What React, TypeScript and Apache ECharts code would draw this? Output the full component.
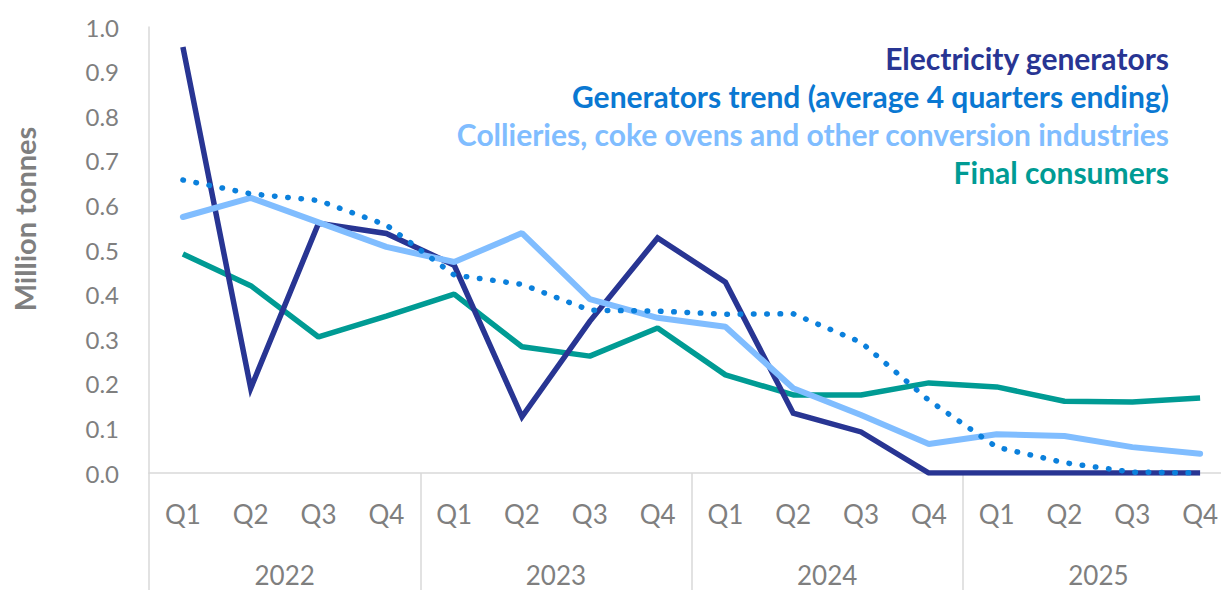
import React, { useEffect, useRef } from "react";
import * as echarts from "echarts";

const quarters = ["Q1", "Q2", "Q3", "Q4", "Q1", "Q2", "Q3", "Q4", "Q1", "Q2", "Q3", "Q4", "Q1", "Q2", "Q3", "Q4"];
const years = ["2022", "2023", "2024", "2025"];
const yTicks = { min: 0, max: 1, interval: 0.1 };

const electricityGenerators = [0.955, 0.19, 0.56, 0.537, 0.466, 0.126, 0.34, 0.527, 0.428, 0.134, 0.092, 0, 0, 0, 0, 0];
const generatorsTrend = [0.657, 0.626, 0.611, 0.556, 0.444, 0.423, 0.365, 0.363, 0.356, 0.357, 0.293, 0.163, 0.058, 0.023, 0.002, 0];
const collieries = [0.574, 0.617, 0.562, 0.507, 0.473, 0.538, 0.39, 0.348, 0.328, 0.19, 0.13, 0.065, 0.087, 0.083, 0.058, 0.043];
const finalConsumers = [0.491, 0.42, 0.305, 0.352, 0.401, 0.283, 0.262, 0.325, 0.22, 0.175, 0.175, 0.202, 0.193, 0.161, 0.159, 0.168];

const NAMES = {
  elec: "Electricity generators",
  trend: "Generators trend (average 4 quarters ending)",
  coll: "Collieries, coke ovens and other conversion industries",
  fin: "Final consumers",
};
const COLORS = {
  elec: "#283593",
  trend: "#0B80DC",
  coll: "#80BDFF",
  fin: "#009B94",
};

const FONT = "Lato, 'Liberation Sans', sans-serif";
const GRAY = "#7f7f7f";
const AXIS_GRAY = "#d9d9d9";

export default function App() {
  const ref = useRef<HTMLDivElement>(null);
  useEffect(() => {
    document.body.style.margin = "0";
    document.body.style.overflow = "hidden";
    document.documentElement.style.overflow = "hidden";
    const chart = echarts.init(ref.current!, null, { renderer: "svg" });
    chart.setOption({
      animation: false,
      backgroundColor: "#ffffff",
      textStyle: { fontFamily: FONT },
      grid: { left: 149, top: 27, bottom: 117, width: 1085 },
      legend: {
        orient: "vertical",
        right: 61,
        top: 38,
        align: "right",
        icon: "none",
        itemWidth: 0,
        itemGap: 8,
        selectedMode: false,
        textStyle: { fontFamily: FONT, fontSize: 30, fontWeight: "bold", lineHeight: 30 },
        data: [
          { name: NAMES.elec, textStyle: { color: COLORS.elec } },
          { name: NAMES.trend, textStyle: { color: "#0A78D2" } },
          { name: NAMES.coll, textStyle: { color: COLORS.coll } },
          { name: NAMES.fin, textStyle: { color: COLORS.fin } },
        ],
      },
      graphic: [
        {
          type: "text",
          x: 24,
          y: 219,
          rotation: Math.PI / 2,
          style: {
            text: "Million tonnes",
            fill: GRAY,
            font: `bold 29px ${FONT}`,
            textAlign: "center",
            textVerticalAlign: "middle",
          },
        },
      ],
      xAxis: [
        {
          type: "category",
          data: quarters,
          position: "bottom",
          axisLine: { show: true, lineStyle: { color: AXIS_GRAY, width: 1.5 } },
          axisTick: { show: false },
          axisLabel: { color: GRAY, fontSize: 26, margin: 28, fontFamily: FONT, interval: 0 },
          splitLine: { show: false },
        },
        {
          type: "category",
          data: years,
          position: "bottom",
          axisLine: { show: false },
          axisTick: { show: true, length: 120, interval: 0, lineStyle: { color: AXIS_GRAY, width: 1.5 } },
          axisLabel: { color: GRAY, fontSize: 26, margin: 89, fontFamily: FONT, interval: 0 },
          splitLine: { show: false },
        },
      ],
      yAxis: {
        type: "value",
        min: yTicks.min,
        max: yTicks.max,
        interval: yTicks.interval,
        axisLine: { show: true, lineStyle: { color: AXIS_GRAY, width: 1.5 } },
        axisTick: { show: false },
        splitLine: { show: false },
        axisLabel: {
          color: GRAY,
          fontSize: 24,
          margin: 30,
          fontFamily: FONT,
          formatter: (v: number) => v.toFixed(1),
        },
      },
      series: [
        {
          name: NAMES.fin,
          type: "line",
          data: finalConsumers,
          symbol: "none",
          lineStyle: { color: COLORS.fin, width: 5.5 },
          itemStyle: { color: COLORS.fin },
          z: 2,
        },
        {
          name: NAMES.elec,
          type: "line",
          data: electricityGenerators,
          symbol: "none",
          lineStyle: { color: COLORS.elec, width: 5.5, join: "miter" },
          itemStyle: { color: COLORS.elec },
          z: 3,
        },
        {
          name: NAMES.coll,
          type: "line",
          data: collieries,
          symbol: "none",
          lineStyle: { color: COLORS.coll, width: 6, cap: "round" },
          itemStyle: { color: COLORS.coll },
          z: 4,
        },
        {
          name: NAMES.trend,
          type: "line",
          data: generatorsTrend,
          symbol: "none",
          lineStyle: { color: COLORS.trend, width: 5.5, type: [0.5, 12.8], cap: "round" },
          itemStyle: { color: COLORS.trend },
          z: 5,
        },
      ],
    });
    return () => chart.dispose();
  }, []);
  return <div ref={ref} style={{ width: 1240, height: 590 }} />;
}
